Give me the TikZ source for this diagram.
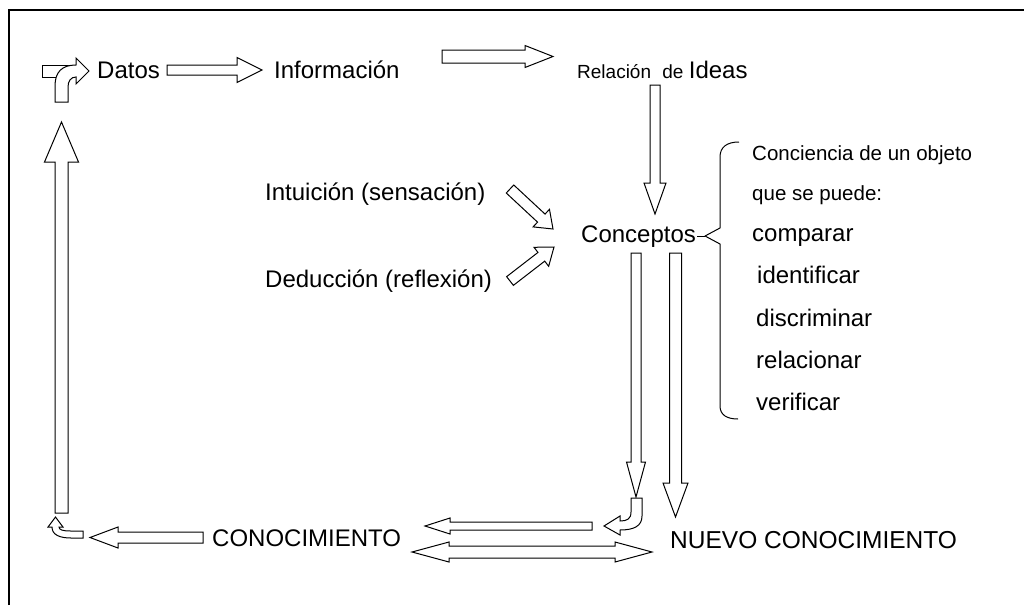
\documentclass[tikz,border=0pt]{standalone}
\usepackage{fontspec}
\setmainfont{Liberation Sans}
\usetikzlibrary{calc}
\newcommand{\fsz}[1]{\fontsize{#1}{#1}\selectfont}
\tikzset{
  txt/.style={anchor=base west, inner sep=0pt, font=\fsz{24}},
  small/.style={txt, font=\fsz{20.5}},
  outl/.style={draw=black, fill=white, line width=1pt, line join=miter},
  harrow/.style n args={3}{outl,
    to path={let \p1=(\tikztostart), \p2=(\tikztotarget),
      \n1={atan2(\y2-\y1,\x2-\x1)}, \n2={veclen(\x2-\x1,\y2-\y1)-#3} in
      ($(\p1)+(\n1+90:#1)$) -- ($(\p1)+(\n1:\n2)+(\n1+90:#1)$)
      -- ($(\p1)+(\n1:\n2)+(\n1+90:#2)$) -- (\p2)
      -- ($(\p1)+(\n1:\n2)+(\n1-90:#2)$) -- ($(\p1)+(\n1:\n2)+(\n1-90:#1)$)
      -- ($(\p1)+(\n1-90:#1)$) -- cycle}},
  darrow/.style n args={3}{outl,
    to path={let \p1=(\tikztostart), \p2=(\tikztotarget),
      \n1={atan2(\y2-\y1,\x2-\x1)}, \n2={veclen(\x2-\x1,\y2-\y1)-#3}, \n3={#3} in
      (\p1) -- ($(\p1)+(\n1:\n3)+(\n1+90:#2)$) -- ($(\p1)+(\n1:\n3)+(\n1+90:#1)$)
      -- ($(\p1)+(\n1:\n2)+(\n1+90:#1)$) -- ($(\p1)+(\n1:\n2)+(\n1+90:#2)$) -- (\p2)
      -- ($(\p1)+(\n1:\n2)+(\n1-90:#2)$) -- ($(\p1)+(\n1:\n2)+(\n1-90:#1)$)
      -- ($(\p1)+(\n1:\n3)+(\n1-90:#1)$) -- ($(\p1)+(\n1:\n3)+(\n1-90:#2)$) -- cycle}},
  bracel/.style={draw=black, line width=1pt, line join=round},
  frame/.style={draw=black, line width=1.2pt}
}
\begin{document}
\begin{tikzpicture}[x=1pt, y=-1pt]
\useasboundingbox (0,0) rectangle (1032,605);
% frame (top and left edges)
\draw[frame] (9,605) -- (9,10) -- (1024,10);

% texts
\node[txt] (datos) at (97,78) {Datos};
\node[txt] (info) at (274,78) {Información};
\node[txt] (rel) at (577,78) {{\fsz{19}Relación\hspace{6pt} de }{\fsz{24}Ideas}};
\node[txt] (intu) at (265,200) {Intuición (sensación)};
\node[txt] (dedu) at (265,287) {Deducción (reflexión)};
\node[txt] (conc) at (581,242) {Conceptos};
\node[small] (cons) at (752,160) {Conciencia de un objeto};
\node[small] (qse) at (752,200) {que se puede:};
\node[txt] (comp) at (752,241) {comparar};
\node[txt] (iden) at (757,283) {identificar};
\node[txt] (disc) at (756,326) {discriminar};
\node[txt] (rela) at (756,368) {relacionar};
\node[txt] (veri) at (756,410) {verificar};
\node[txt] (cono) at (212,546) {CONOCIMIENTO};
\node[txt, font=\fsz{24.5}] (nuevo) at (670,548) {NUEVO CONOCIMIENTO};

% arrow end points
\coordinate (a1s) at (167,70);   \coordinate (a1e) at (262,70);
\coordinate (a2s) at (442,56.5); \coordinate (a2e) at (553,56.5);
\coordinate (a3s) at (655,85);   \coordinate (a3e) at (655,214);
\coordinate (a4s) at (510,189);  \coordinate (a4e) at (553,229);
\coordinate (a5s) at (510,281);  \coordinate (a5e) at (554,247);
\coordinate (a6s) at (636,253);  \coordinate (a6e) at (636,497);
\coordinate (a7s) at (675.5,253); \coordinate (a7e) at (675.5,517);
\coordinate (a8s) at (592,526);  \coordinate (a8e) at (425,526);
\coordinate (a9s) at (412,552);  \coordinate (a9e) at (652,552);
\coordinate (a10s) at (203,537.5); \coordinate (a10e) at (90,537.5);
\coordinate (a11s) at (61.5,513); \coordinate (a11e) at (61.5,122);

% straight block arrows
\draw[harrow={5pt}{12.5pt}{25pt}] (a1s) to (a1e);
\draw[harrow={6.5pt}{11pt}{28pt}] (a2s) to (a2e);
\draw[harrow={5pt}{11pt}{31pt}] (a3s) to (a3e);
\draw[harrow={5.5pt}{12pt}{16pt}] (a4s) to (a4e);
\draw[harrow={5.5pt}{12pt}{16pt}] (a5s) to (a5e);
\draw[harrow={5pt}{9.5pt}{35pt}] (a6s) to (a6e);
\draw[harrow={6pt}{12.5pt}{34pt}] (a7s) to (a7e);
\draw[harrow={4pt}{8pt}{25pt}] (a8s) to (a8e);
\draw[darrow={6pt}{10pt}{37pt}] (a9s) to (a9e);
\draw[harrow={5.5pt}{10.5pt}{28pt}] (a10s) to (a10e);
\draw[harrow={6.5pt}{17pt}{40pt}] (a11s) to (a11e);

% top-left turning arrow with stub
\draw[outl] (42,65) rectangle (70,77);
\draw[outl] (55,102) -- (55,86) .. controls (55,72) and (62,65) .. (76,65)
  -- (76,58) -- (89,71) -- (76,84) -- (76,77)
  .. controls (71,77) and (68,81) .. (68,87) -- (68,102) -- cycle;

% bent arrow below Conceptos (to the left)
\draw[outl] (631,498) -- (642,498) -- (642,516) .. controls (642,526) and (634,530) .. (620,530)
  -- (620,535) -- (604,526) -- (620,516) -- (620,521)
  .. controls (627,521) and (631,519) .. (631,512) -- cycle;

% small bent arrow bottom-left (turning up)
\draw[outl] (83,531) -- (71,531) .. controls (63,531) and (59,530) .. (59,527)
  -- (63,527) -- (55.5,517) -- (48,527) -- (52,527)
  .. controls (52,535) and (60,538) .. (71,538) -- (83,538) -- cycle;

% brace
\coordinate (bt) at (739,142);
\coordinate (bb) at (738,419);
\draw[bracel] (bt) .. controls (727,142) and (720,147) .. (720,157) -- (720,228)
  -- (705,236) -- (720,244) -- (720,406) .. controls (720,415) and (727,419) .. (bb);
\draw[bracel] (conc.east |- 0,236) ++(1,0) -- (705,236);
\end{tikzpicture}
\end{document}
